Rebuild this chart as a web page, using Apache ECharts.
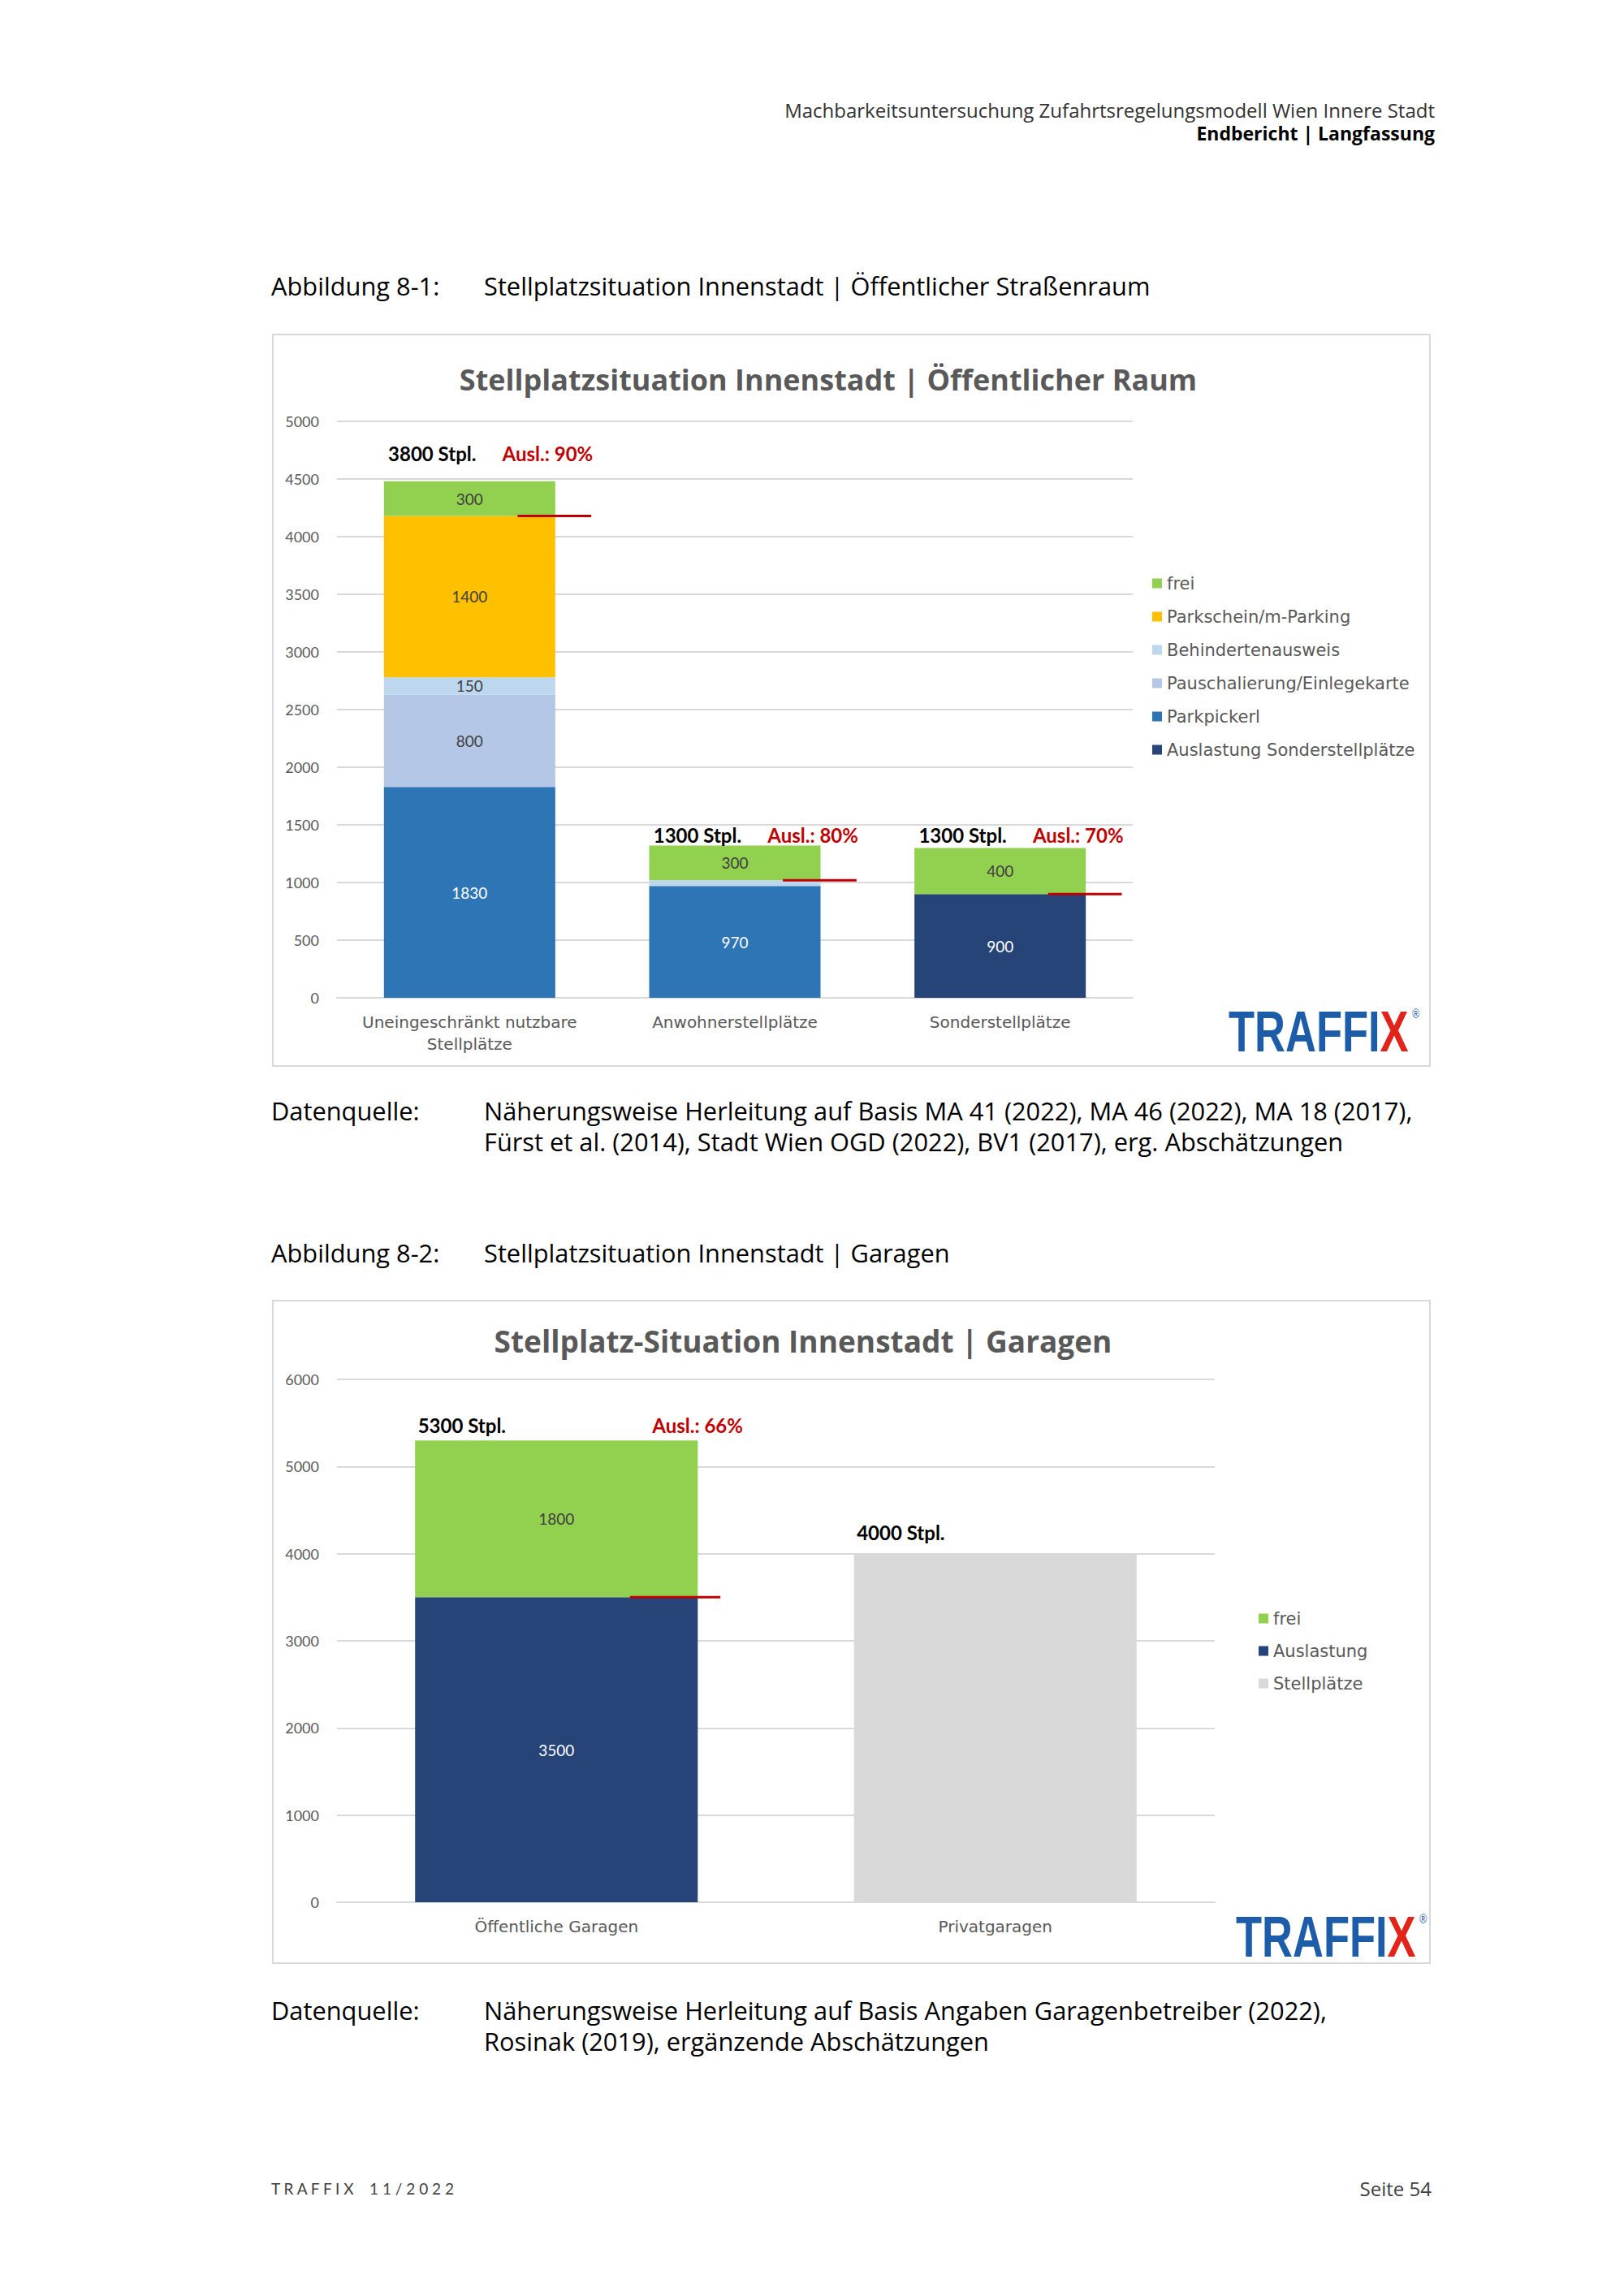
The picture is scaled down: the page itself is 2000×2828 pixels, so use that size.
<!DOCTYPE html>
<html>
<head>
<meta charset="utf-8">
<script src="https://cdn.jsdelivr.net/npm/echarts@6/dist/echarts.min.js"></script>
<style>
  html, body { margin: 0; padding: 0; background: #fff; }
  #page { width: 2000px; height: 2828px; }
</style>
</head>
<body>
<div id="page"></div>
<script>
// chart 1 - öffentlicher Raum
const categories1 = ['Uneingeschränkt nutzbare\nStellplätze', 'Anwohnerstellplätze', 'Sonderstellplätze'];
const sonderAusl = [null, null, 900];
const parkpickerl = [1830, 970, null];
const pauschal = [800, null, null];
const behinderten = [150, 50, null];
const parkschein = [1400, null, null];
const frei1 = [300, 300, 400];
const stpl1 = [3800, 1300, 1300];
const ausl1 = ['90%', '80%', '70%'];
const auslLine1 = [4180, 1020, 900];
const annoLevel1 = [4720, 1410, 1410];

// chart 2 - Garagen
const categories2 = ['Öffentliche Garagen', 'Privatgaragen'];
const stellplaetze2 = [null, 4000];
const auslastung2 = [3500, null];
const frei2 = [1800, null];
const stpl2 = [5300, 4000];
const ausl2 = ['66%', null];
const auslLine2 = [3500, null];
const annoLevel2 = [5470, 4240];

const GRAY = '#595959';
const GRID_LINE = '#D9D9D9';
const RED = '#C00000';
const BODY_FONT = 'Open Sans';
const CHART_FONT = 'DejaVu Sans';

const chart = echarts.init(document.getElementById('page'), null, { renderer: 'svg' });

function segLabel(color) {
  return {
    show: true,
    position: 'inside',
    color: color,
    fontFamily: 'Lato',
    fontSize: 19,
    formatter: function (p) { return p.value >= 100 ? p.value : ''; }
  };
}

function bar(name, data, color, labelColor, axis, stack, gap) {
  return {
    name: name,
    type: 'bar',
    stack: stack,
    xAxisIndex: axis,
    yAxisIndex: axis,
    barCategoryGap: gap,
    itemStyle: { color: color },
    label: labelColor ? segLabel(labelColor) : { show: false },
    data: data
  };
}

// annotation texts + red utilisation line, placed via the axis scales
function annoSeries(axis, cats, levels, stpl, ausl, line, cfg) {
  return {
    type: 'custom',
    xAxisIndex: axis,
    yAxisIndex: axis,
    z: 5,
    clip: false,
    silent: true,
    data: cats.map(function (c, i) { return [i, levels[i]]; }),
    renderItem: function (params, api) {
      const i = params.dataIndex;
      const cx = api.coord([i, 0])[0];
      const bw = api.size([1, 0])[0] * cfg.barFrac;
      const ty = api.coord([i, api.value(1)])[1];
      const kids = [{
        type: 'text',
        style: {
          text: stpl[i] + ' Stpl.', x: cx + cfg.stplOff * bw, y: ty,
          align: 'left', verticalAlign: 'middle', textAlign: 'left', textVerticalAlign: 'middle',
          fontFamily: 'Lato', fontWeight: 'bold', fontSize: 24, fill: '#000'
        }
      }];
      if (ausl[i]) {
        kids.push({
          type: 'text',
          style: {
            text: 'Ausl.: ' + ausl[i], x: cx + cfg.auslOff * bw, y: ty,
            align: 'right', verticalAlign: 'middle', textAlign: 'right', textVerticalAlign: 'middle',
            fontFamily: 'Lato', fontWeight: 'bold', fontSize: 24, fill: RED
          }
        });
      }
      if (line[i] != null) {
        const ly = api.coord([i, line[i]])[1];
        kids.push({
          type: 'line',
          shape: { x1: cx + cfg.l0 * bw, y1: ly, x2: cx + cfg.l1 * bw, y2: ly },
          style: { stroke: RED, lineWidth: 3 }
        });
      }
      return { type: 'group', children: kids };
    }
  };
}

function pageText(text, x, y, opts) {
  return {
    type: 'text',
    x: x,
    y: y,
    style: Object.assign({
      text: text,
      fill: '#000',
      fontFamily: BODY_FONT,
      fontSize: 30.8,
      textAlign: 'left',
      textVerticalAlign: 'middle',
      align: 'left',
      verticalAlign: 'middle'
    }, opts || {})
  };
}

function logo(x, y) {
  return {
    type: 'text',
    x: x,
    y: y,
    scaleX: 0.75,
    style: {
      text: '{b|TRAFFI}{r|X}{s|®}',
      textVerticalAlign: 'middle',
      verticalAlign: 'middle',
      rich: {
        b: { fontFamily: 'Liberation Sans', fontWeight: 'bold', fontSize: 70, fill: '#1D5CA8', color: '#1D5CA8' },
        r: { fontFamily: 'Liberation Sans', fontWeight: 'bold', fontSize: 70, fill: '#E2231A', color: '#E2231A' },
        s: { fontFamily: 'Liberation Sans', fontSize: 16, fill: '#1D5CA8', color: '#1D5CA8', padding: [0, 0, 46, 6] }
      }
    }
  };
}

const axisLabelY = {
  color: GRAY, fontFamily: 'Lato', fontSize: 18, margin: 22,
  formatter: function (v) { return String(v); }
};

const legendText = { color: GRAY, fontFamily: CHART_FONT, fontSize: 21, lineHeight: 20, padding: [0, 0, 0, 1] };

const option = {
  animation: false,
  backgroundColor: '#fff',
  title: [
    {
      text: 'Stellplatzsituation Innenstadt | Öffentlicher Raum',
      left: 1015, top: 444, textAlign: 'center',
      textStyle: { color: GRAY, fontFamily: BODY_FONT, fontWeight: 'bold', fontSize: 36 }
    },
    {
      text: 'Stellplatz-Situation Innenstadt | Garagen',
      left: 984, top: 1628, textAlign: 'center',
      textStyle: { color: GRAY, fontFamily: BODY_FONT, fontWeight: 'bold', fontSize: 37 }
    }
  ],
  legend: [
    {
      orient: 'vertical', left: 1414, top: 703, itemWidth: 12, itemHeight: 12, itemGap: 20,
      icon: 'rect',
      textStyle: legendText,
      data: ['frei', 'Parkschein/m-Parking', 'Behindertenausweis', 'Pauschalierung/Einlegekarte', 'Parkpickerl', 'Auslastung Sonderstellplätze']
    },
    {
      orient: 'vertical', left: 1545, top: 1978, itemWidth: 12, itemHeight: 12, itemGap: 19,
      icon: 'rect',
      textStyle: legendText,
      data: ['frei ', 'Auslastung', 'Stellplätze']
    }
  ],
  grid: [
    { left: 415, right: 605, top: 519, bottom: 1599 },
    { left: 415, right: 504, top: 1699, bottom: 485 }
  ],
  xAxis: [
    {
      type: 'category', gridIndex: 0, data: categories1,
      axisLine: { lineStyle: { color: GRID_LINE, width: 2 } },
      axisTick: { show: false },
      axisLabel: { interval: 0, color: GRAY, fontFamily: CHART_FONT, fontSize: 20, lineHeight: 27, margin: 16 }
    },
    {
      type: 'category', gridIndex: 1, data: categories2,
      axisLine: { lineStyle: { color: GRID_LINE, width: 2 } },
      axisTick: { show: false },
      axisLabel: { interval: 0, color: GRAY, fontFamily: CHART_FONT, fontSize: 20, margin: 20 }
    }
  ],
  yAxis: [
    {
      type: 'value', gridIndex: 0, min: 0, max: 5000, interval: 500,
      axisLine: { show: false }, axisTick: { show: false },
      axisLabel: axisLabelY,
      splitLine: { lineStyle: { color: GRID_LINE, width: 2 } }
    },
    {
      type: 'value', gridIndex: 1, min: 0, max: 6000, interval: 1000,
      axisLine: { show: false }, axisTick: { show: false },
      axisLabel: axisLabelY,
      splitLine: { lineStyle: { color: GRID_LINE, width: 2 } }
    }
  ],
  series: [
    bar('Auslastung Sonderstellplätze', sonderAusl, '#264478', '#fff', 0, 'a', '35.4%'),
    bar('Parkpickerl', parkpickerl, '#2E75B6', '#fff', 0, 'a', '35.4%'),
    bar('Pauschalierung/Einlegekarte', pauschal, '#B4C7E7', '#404040', 0, 'a', '35.4%'),
    bar('Behindertenausweis', behinderten, '#BDD7EE', '#404040', 0, 'a', '35.4%'),
    bar('Parkschein/m-Parking', parkschein, '#FFC000', '#404040', 0, 'a', '35.4%'),
    bar('frei', frei1, '#92D050', '#404040', 0, 'a', '35.4%'),
    annoSeries(0, categories1, annoLevel1, stpl1, ausl1, auslLine1,
      { barFrac: 0.646, stplOff: -0.475, auslOff: 0.72, l0: 0.28, l1: 0.71 }),

    bar('Stellplätze', stellplaetze2, '#D9D9D9', null, 1, 'b', '35.6%'),
    bar('Auslastung', auslastung2, '#264478', '#fff', 1, 'b', '35.6%'),
    bar('frei ', frei2, '#92D050', '#404040', 1, 'b', '35.6%'),
    annoSeries(1, categories2, annoLevel2, stpl2, ausl2, auslLine2,
      { barFrac: 0.644, stplOff: -0.49, auslOff: 0.66, l0: 0.26, l1: 0.58 })
  ],
  graphic: [
    // header
    pageText('Machbarkeitsuntersuchung Zufahrtsregelungsmodell Wien Innere Stadt', 1767, 135,
      { fontSize: 24, fill: '#333', textAlign: 'right', align: 'right' }),
    pageText('Endbericht | Langfassung', 1767, 164,
      { fontWeight: 'bold', fontSize: 23, textAlign: 'right', align: 'right' }),

    // figure 1
    pageText('Abbildung 8-1:', 334, 352),
    pageText('Stellplatzsituation Innenstadt | Öffentlicher Straßenraum', 596, 352),
    { type: 'rect', shape: { x: 336, y: 412, width: 1425, height: 901 }, style: { fill: 'none', stroke: GRID_LINE, lineWidth: 2 }, z: -1 },
    logo(1513, 1271),
    pageText('Datenquelle:', 334, 1368),
    pageText('Näherungsweise Herleitung auf Basis MA 41 (2022), MA 46 (2022), MA 18 (2017),', 596, 1368),
    pageText('Fürst et al. (2014), Stadt Wien OGD (2022), BV1 (2017), erg. Abschätzungen', 596, 1406),

    // figure 2
    pageText('Abbildung 8-2:', 334, 1543),
    pageText('Stellplatzsituation Innenstadt | Garagen', 596, 1543),
    { type: 'rect', shape: { x: 336, y: 1602, width: 1425, height: 816 }, style: { fill: 'none', stroke: GRID_LINE, lineWidth: 2 }, z: -1 },
    logo(1522, 2386),
    pageText('Datenquelle:', 334, 2476),
    pageText('Näherungsweise Herleitung auf Basis Angaben Garagenbetreiber (2022),', 596, 2476),
    pageText('Rosinak (2019), ergänzende Abschätzungen', 596, 2514),

    // footer
    pageText('T R A F F I X    1 1 / 2 0 2 2', 334, 2695, { fontFamily: 'Lato', fontSize: 19, fill: '#404040' }),
    pageText('Seite 54', 1763, 2695, { fontSize: 24, fill: '#404040', textAlign: 'right', align: 'right' })
  ]
};

chart.setOption(option);
</script>
</body>
</html>
